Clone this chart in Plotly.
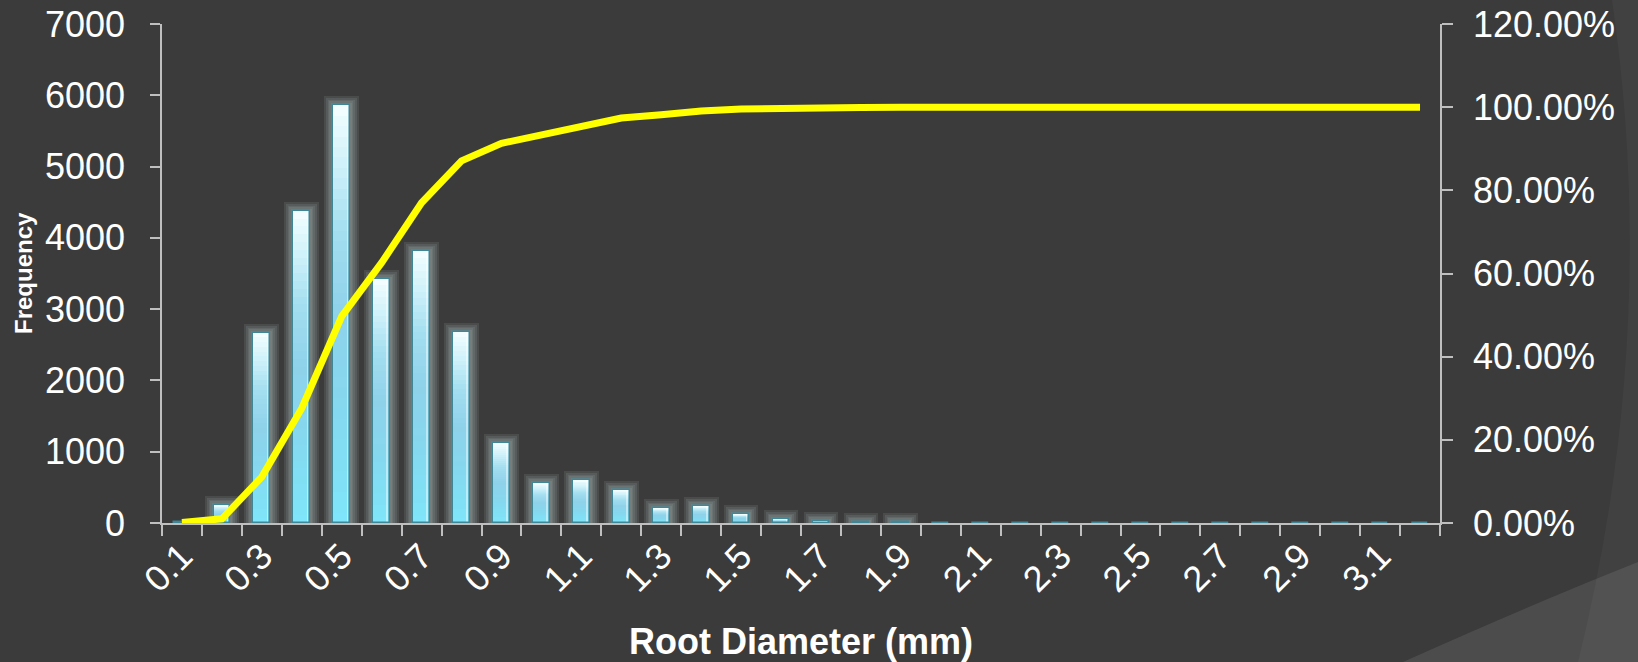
import plotly.graph_objects as go

# Root diameter classes (mm) and counts
diameters = ["0.1", "0.2", "0.3", "0.4", "0.5", "0.6", "0.7", "0.8", "0.9", "1.0",
             "1.1", "1.2", "1.3", "1.4", "1.5", "1.6", "1.7", "1.8", "1.9", "2.0",
             "2.1", "2.2", "2.3", "2.4", "2.5", "2.6", "2.7", "2.8", "2.9", "3.0",
             "3.1", "3.2"]
frequency = [8, 250, 2670, 4380, 5860, 3420, 3820, 2680, 1120, 560,
             600, 470, 210, 240, 125, 60, 25, 15, 12, 0,
             0, 0, 0, 0, 0, 0, 0, 0, 0, 0,
             0, 0]
cumulative_pct = [0.1, 1.0, 11.1, 27.6, 49.7, 62.6, 77.0, 87.1, 91.3, 93.4,
                  95.6, 97.4, 98.2, 99.1, 99.55, 99.78, 99.88, 99.93, 99.97, 100.0,
                  100.0, 100.0, 100.0, 100.0, 100.0, 100.0, 100.0, 100.0, 100.0, 100.0,
                  100.0, 100.0]
# only every other class gets a printed label
tick_labels = ["0.1", "", "0.3", "", "0.5", "", "0.7", "", "0.9", "",
               "1.1", "", "1.3", "", "1.5", "", "1.7", "", "1.9", "",
               "2.1", "", "2.3", "", "2.5", "", "2.7", "", "2.9", "",
               "3.1", ""]

W, H = 1638, 662
ML, MR, MT, MB = 162, 198, 24, 139
PW, PH = W - ML - MR, H - MT - MB
BG = "#3b3b3b"
AXIS = "#bfbfbf"
FONT = "Liberation Sans"
BAR_W = 0.42


def px_x(px):
    return (px - ML) / PW


def px_y(py):
    return (H - MB - py) / PH


fig = go.Figure()

# soft halo around the columns: several translucent strokes of shrinking width
glow_vals = [v if v >= 10 else None for v in frequency]
for lw in [18, 14, 10, 7, 4]:
    col = "rgba(175,190,196,0.13)"
    fig.add_trace(go.Bar(x=diameters, y=glow_vals, width=BAR_W,
                         marker=dict(color="rgba(0,0,0,0)", line=dict(color=col, width=lw)),
                         hoverinfo="skip", showlegend=False))

# vertical colour ramp inside each column (bottom -> top)
stops = [(0.0, (126, 230, 250)), (0.25, (132, 217, 240)), (0.5, (142, 210, 234)),
         (0.7, (164, 222, 240)), (0.85, (205, 241, 250)), (1.0, (244, 254, 255))]


def ramp(f):
    for (f0, c0), (f1, c1) in zip(stops, stops[1:]):
        if f <= f1:
            t = (f - f0) / (f1 - f0)
            return "rgb(%d,%d,%d)" % tuple(round(a + (b - a) * t) for a, b in zip(c0, c1))
    return "rgb(%d,%d,%d)" % stops[-1][1]


n_layers = 40
for k in range(n_layers):
    a = k / n_layers
    mid = (k + 0.5) / n_layers
    base = [v * a for v in frequency]
    height = [v * (1 - a) if v > 0 else None for v in frequency]
    fig.add_trace(go.Bar(x=diameters, y=height, base=base, width=BAR_W,
                         marker=dict(color=ramp(mid), line=dict(width=0)),
                         hoverinfo="skip", showlegend=False))

# thin light streak near the right side of each column
fig.add_trace(go.Bar(x=diameters, y=[v if v > 0 else None for v in frequency],
                     width=0.04, offset=0.12,
                     marker=dict(color="rgba(255,255,255,0.45)", line=dict(width=0)),
                     hoverinfo="skip", showlegend=False))

# column outlines
fig.add_trace(go.Bar(x=diameters, y=frequency, width=BAR_W, name="Frequency",
                     marker=dict(color="rgba(0,0,0,0)",
                                 line=dict(color="#3f8797", width=1.5)),
                     showlegend=False))

# cumulative percentage
fig.add_trace(go.Scatter(x=diameters, y=cumulative_pct, yaxis="y2", mode="lines",
                         line=dict(color="#ffff00", width=7),
                         name="Cumulative %", showlegend=False))

tick_font = dict(family=FONT, size=36, color="#ffffff")

fig.update_layout(
    width=W, height=H,
    margin=dict(l=ML, r=MR, t=MT, b=MB, pad=0),
    paper_bgcolor=BG, plot_bgcolor="rgba(0,0,0,0)",
    barmode="overlay", bargap=0,
    xaxis=dict(type="category", tickmode="array", tickvals=diameters, ticktext=tick_labels,
               tickson="boundaries", ticks="outside", ticklen=11, tickwidth=1.5,
               tickcolor=AXIS, showline=True, linecolor=AXIS, linewidth=1.5,
               showgrid=False, zeroline=False, tickangle=-45, tickfont=tick_font,
               ticklabelstandoff=-4, automargin=False),
    yaxis=dict(range=[0, 7000], dtick=1000, ticks="outside", ticklen=10, tickwidth=1.5,
               tickcolor=AXIS, showline=True, linecolor=AXIS, linewidth=1.5,
               showgrid=False, zeroline=False, tickfont=tick_font,
               ticklabelstandoff=18, automargin=False),
    yaxis2=dict(range=[0, 120], dtick=20, tickformat=".2f", ticksuffix="%",
                overlaying="y", side="right", ticks="outside", ticklen=11, tickwidth=1.5,
                tickcolor=AXIS, showline=True, linecolor=AXIS, linewidth=1.5,
                showgrid=False, zeroline=False, tickfont=tick_font,
                ticklabelstandoff=13, automargin=False),
    annotations=[
        dict(text="Root Diameter (mm)", xref="paper", yref="paper",
             x=0.5, y=px_y(641), xanchor="center", yanchor="middle", showarrow=False,
             font=dict(family=FONT, size=36, color="#ffffff", weight="bold")),
        dict(text="Frequency", xref="paper", yref="paper", textangle=-90,
             x=px_x(23), y=px_y(273), xanchor="center", yanchor="middle", showarrow=False,
             font=dict(family=FONT, size=24, color="#ffffff", weight="bold")),
    ],
    shapes=[
        # faint curved band on the right edge of the slide
        dict(type="path", xref="paper", yref="paper", layer="below",
             path="M %f,%f Q %f,%f %f,%f L %f,%f L %f,%f Z" % (
                 px_x(1612), px_y(0), px_x(1660), px_y(330), px_x(1578), px_y(662),
                 px_x(1638), px_y(662), px_x(1638), px_y(0)),
             fillcolor="rgba(255,255,255,0.03)", line=dict(width=0)),
        # lighter wedge in the lower-right corner
        dict(type="path", xref="paper", yref="paper", layer="below",
             path="M %f,%f Q %f,%f %f,%f L %f,%f Z" % (
                 px_x(1403), px_y(662), px_x(1530), px_y(605), px_x(1638), px_y(562),
                 px_x(1638), px_y(662)),
             fillcolor="rgba(255,255,255,0.09)", line=dict(width=0)),
    ],
)

fig.write_html("out.html")
